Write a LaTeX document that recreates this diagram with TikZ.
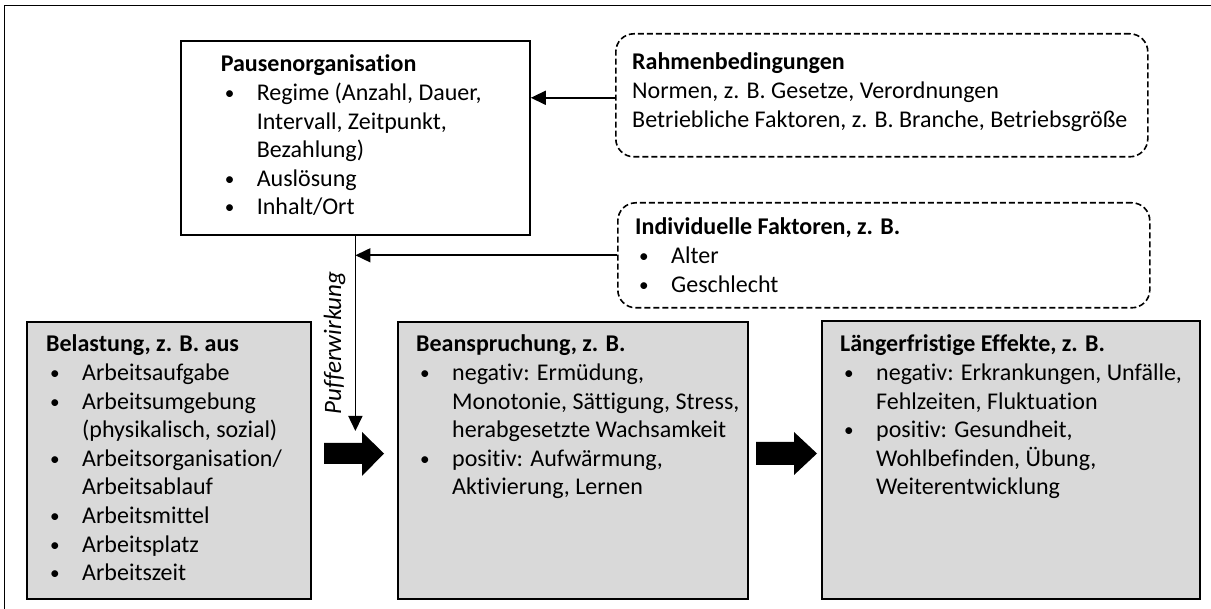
\documentclass[tikz,border=0pt]{standalone}
\usepackage{fontspec}
\setmainfont{Carlito}[Ligatures=NoCommon]
\usetikzlibrary{arrows.meta,calc}
\definecolor{boxgray}{HTML}{D9D9D9}
\newcommand\bitem[1]{\hspace*{4pt}\makebox[32pt][l]{\raisebox{1pt}{\scalebox{0.8}{\textbullet}}}#1}
\newcommand\cont[1]{\hspace*{36pt}#1}
\begin{document}
\begin{tikzpicture}[x=1pt,y=-1pt,
  graybox/.style={draw=black, line width=2pt, fill=boxgray, inner sep=0pt, anchor=north west},
  whitebox/.style={draw=black, line width=1.8pt, fill=white, inner sep=0pt, anchor=north west},
  dashbox/.style={draw=black, line width=1.6pt, dash pattern=on 6pt off 3pt, rounded corners=18pt, inner sep=0pt, anchor=north west},
  txt/.style={inner sep=0pt, anchor=base west, font=\fontsize{24}{28.6}\selectfont},
  conn/.style={line width=1.6pt, -{Triangle[length=15pt,width=14pt]}},
  plainline/.style={line width=1.6pt},
  blockarrow/.style={fill=black}
]
\useasboundingbox (0,0) rectangle (1211,609);
% outer frame (only top and left edges are visible)
\draw[line width=1.5pt] (4.7,620) -- (4.7,5.3) -- (1220,5.3);

% boxes
\node[whitebox, minimum width=349pt, minimum height=194pt] (paus) at (180,40) {};
\node[dashbox, minimum width=532pt, minimum height=123pt] (rahmen) at (615,33) {};
\node[dashbox, minimum width=532pt, minimum height=105pt] (indiv) at (617,202) {};
\node[graybox, minimum width=284pt, minimum height=277pt] (bel) at (26,321) {};
\node[graybox, minimum width=350pt, minimum height=277pt] (bea) at (397,321) {};
\node[graybox, minimum width=378pt, minimum height=278pt] (lang) at (821,320) {};

% texts
\node[txt] (tpaus) at (220.6,72) {\parbox[t]{300pt}{\textbf{Pausenorganisation}\\
\bitem{Regime (Anzahl, Dauer,}\\
\cont{Intervall, Zeitpunkt,}\\
\cont{Bezahlung)}\\
\bitem{Auslösung}\\
\bitem{Inhalt/Ort}}};
\node[txt] (trahmen) at (632,70) {\parbox[t]{510pt}{\textbf{Rahmenbedingungen}\\
Normen, z. B. Gesetze, Verordnungen\\
Betriebliche Faktoren, z. B. Branche, Betriebsgröße}};
\node[txt] (tindiv) at (635,235) {\parbox[t]{500pt}{\textbf{Individuelle Faktoren, z. B.}\\
\bitem{Alter}\\
\bitem{Geschlecht}}};
\node[txt] (tbel) at (46,352) {\parbox[t]{260pt}{\textbf{Belastung, z. B. aus}\\
\bitem{Arbeitsaufgabe}\\
\bitem{Arbeitsumgebung}\\
\cont{(physikalisch, sozial)}\\
\bitem{Arbeitsorganisation/}\\
\cont{Arbeitsablauf}\\
\bitem{Arbeitsmittel}\\
\bitem{Arbeitsplatz}\\
\bitem{Arbeitszeit}}};
\node[txt] (tbea) at (416,352) {\parbox[t]{330pt}{\textbf{Beanspruchung, z. B.}\\
\bitem{negativ: Ermüdung,}\\
\cont{Monotonie, Sättigung, Stress,}\\
\cont{herabgesetzte Wachsamkeit}\\
\bitem{positiv: Aufwärmung,}\\
\cont{Aktivierung, Lernen}}};
\node[txt] (tlang) at (840,352) {\parbox[t]{360pt}{\textbf{Längerfristige Effekte, z. B.}\\
\bitem{negativ: Erkrankungen, Unfälle,}\\
\cont{Fehlzeiten, Fluktuation}\\
\bitem{positiv: Gesundheit,}\\
\cont{Wohlbefinden, Übung,}\\
\cont{Weiterentwicklung}}};

% connectors
\coordinate (rin) at ($(rahmen.west)+(0,2.5)$);
\draw[conn] (rin) -- (rin -| paus.east);
\coordinate (j) at (paus.south |- indiv.west);
\draw[plainline] (paus.south) -- (j);
\draw[conn] (indiv.west) -- (j);
\coordinate (ptip) at (paus.south |- 0,431);
\draw[conn] (j) -- (ptip);
\node[inner sep=0pt, anchor=base, rotate=90, font=\fontsize{25}{28}\selectfont\itshape] (puf) at (341,343) {Pufferwirkung};

% block arrows
\fill[blockarrow] (324,443) -- (362,443) -- (362,432) -- (384,453.5) -- (362,476) -- (362,464) -- (324,464) -- cycle;
\fill[blockarrow] (756,442) -- (794,442) -- (794,432) -- (817,453.5) -- (794,475) -- (794,465) -- (756,465) -- cycle;
\end{tikzpicture}
\end{document}
